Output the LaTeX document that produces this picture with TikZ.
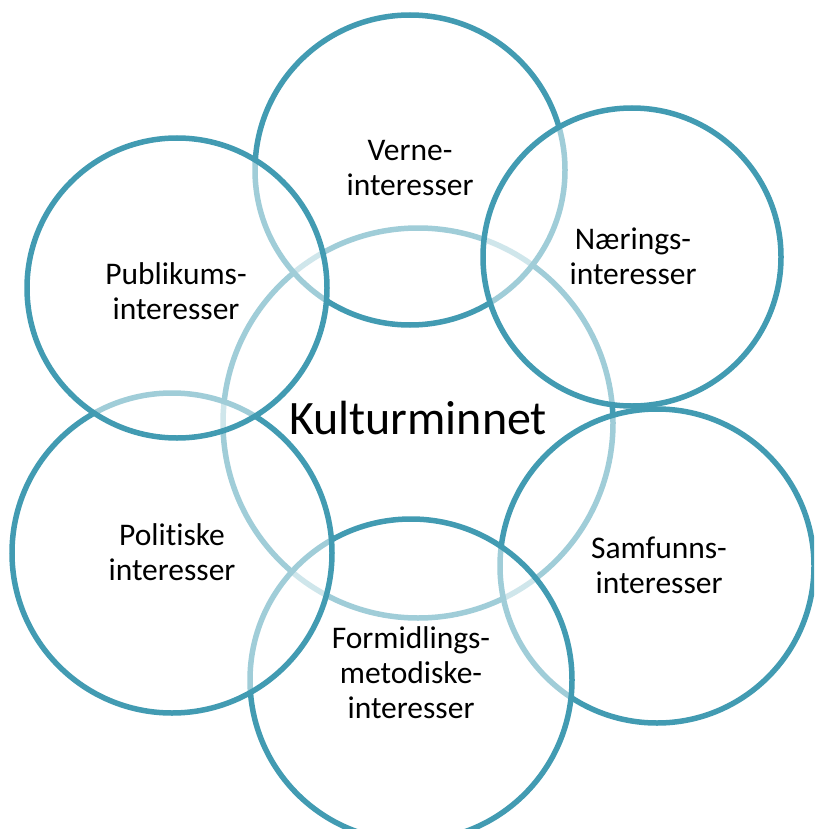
\documentclass[tikz,border=0pt]{standalone}
\usepackage{fontspec}
\setmainfont{Carlito}[Ligatures=NoCommon]
\definecolor{ring}{RGB}{66,155,178}
\begin{document}
\begin{tikzpicture}[x=1pt,y=-1pt,
  ringnode/.style={circle,draw=ring,line width=5.5pt,fill=white,fill opacity=0.5,inner sep=0pt,minimum size=#1},
  ringtext/.style={align=center,font=\fontsize{31.5}{35}\selectfont,text=black,inner sep=0pt},
  centertext/.style={font=\fontsize{48}{56}\selectfont,text=black,inner sep=0pt}]
\useasboundingbox (0,0) rectangle (814,829);
\clip (0,0) rectangle (814,829);
% circles, in drawing order
\node[ringnode=390pt] (kultur) at (418,423) {};
\node[ringnode=310pt] (verne) at (410,170) {};
\node[ringnode=298pt] (naerings) at (632,257) {};
\node[ringnode=314pt] (samfunns) at (657,566) {};
\node[ringnode=322pt] (formidlings) at (411,680) {};
\node[ringnode=320pt] (politiske) at (172,553) {};
\node[ringnode=300pt] (publikums) at (177,288) {};
% texts
\node[centertext] (kulturtxt) at (418,418) {Kulturminnet};
\node[ringtext] (vernetxt) at (410,168) {Verne-\\interesser};
\node[ringtext] (naeringstxt) at (633,256) {Nærings-\\interesser};
\node[ringtext] (publikumstxt) at (176,291) {Publikums-\\interesser};
\node[ringtext] (politisketxt) at (172,552) {Politiske\\interesser};
\node[ringtext] (samfunnstxt) at (659,565) {Samfunns-\\interesser};
\node[ringtext] (formidlingstxt) at (411,673) {Formidlings-\\metodiske-\\interesser};
\end{tikzpicture}
\end{document}
